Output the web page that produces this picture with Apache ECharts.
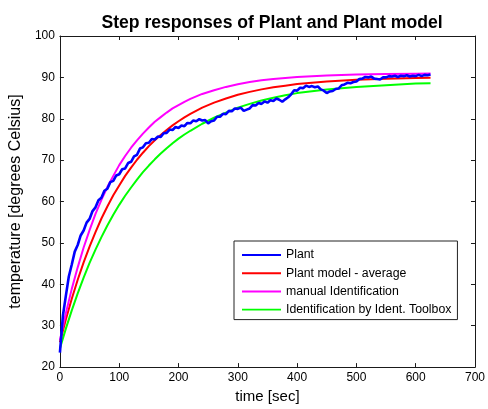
<!DOCTYPE html>
<html>
<head>
<meta charset="utf-8">
<script src="https://cdn.jsdelivr.net/npm/echarts@6/dist/echarts.min.js"></script>
<style>
html,body{margin:0;padding:0;background:#fff;}
#chart{width:488px;height:409px;}
</style>
</head>
<body>
<div id="chart"></div>
<script>
// ---- data ----
const titleText = 'Step responses of Plant and Plant model';
const xName = 'time [sec]';
const yName = 'temperature [degrees Celsius]';
const seriesNames = ['Plant', 'Plant model - average', 'manual Identification', 'Identification by Ident. Toolbox'];
const xTicks = [0, 100, 200, 300, 400, 500, 600, 700];
const yTicks = [20, 30, 40, 50, 60, 70, 80, 90, 100];

// Plant (measured), every 5 s
const plantT = [0,5,10,15,20,25,30,35,40,45,50,55,60,65,70,75,80,85,90,95,100,105,110,115,120,125,130,135,140,145,150,155,160,165,170,175,180,185,190,195,200,205,210,215,220,225,230,235,240,245,250,255,260,265,270,275,280,285,290,295,300,305,310,315,320,325,330,335,340,345,350,355,360,365,370,375,380,385,390,395,400,405,410,415,420,425,430,435,440,445,450,455,460,465,470,475,480,485,490,495,500,505,510,515,520,525,530,535,540,545,550,555,560,565,570,575,580,585,590,595,600,605,610,615,620,625];
const plantY = [23.5,32.4,37.2,41.9,44.8,47.9,49.5,51.8,53.0,54.9,55.8,57.7,58.6,60.3,60.9,62.6,63.1,64.7,65.0,66.3,66.6,67.8,68.0,69.3,69.6,70.9,71.3,72.8,73.1,74.1,74.2,75.1,75.0,75.7,75.6,76.5,76.6,77.4,77.3,78.0,77.8,78.4,78.2,79.0,78.9,79.6,79.4,79.9,79.6,79.7,78.9,79.4,79.6,80.5,80.5,81.2,81.1,81.9,81.8,82.5,82.4,82.7,81.9,82.2,82.5,83.3,83.2,83.8,83.6,84.2,83.9,84.5,84.3,84.9,84.6,84.1,84.7,85.2,85.9,86.9,86.8,87.5,87.4,88.0,87.7,87.9,87.6,87.8,87.1,86.8,86.2,86.6,86.7,87.2,87.3,88.1,88.3,88.7,88.6,88.9,89.0,89.6,89.7,90.1,90.0,90.2,89.7,89.6,89.5,90.0,90.0,90.3,90.2,90.4,90.1,90.4,90.3,90.5,90.2,90.4,90.3,90.6,90.3,90.6,90.5,90.7];

// model responses
const modelT = [0,10,20,30,40,50,60,70,80,90,100,110,120,130,140,150,160,170,180,190,200,210,220,240,260,280,300,320,340,360,380,400,450,500,550,600,625];
const averageY = [26.0,31.5,36.5,41.1,45.3,49.1,52.6,55.9,58.8,61.5,63.9,66.2,68.2,70.1,71.8,73.4,74.8,76.1,77.3,78.4,79.4,80.35,81.2,82.7,83.9,84.9,85.8,86.5,87.1,87.6,88.0,88.4,89.0,89.4,89.7,89.85,89.9];
const manualY = [26.5,33.0,38.9,44.1,48.9,53.1,57.0,60.4,63.5,66.2,68.8,71.0,73.0,74.8,76.4,77.9,79.3,80.4,81.5,82.5,83.3,84.1,84.8,86.0,86.9,87.7,88.35,88.9,89.3,89.6,89.87,90.1,90.45,90.7,90.8,90.9,90.95];
const toolboxY = [24.5,29.3,33.7,37.8,41.6,45.2,48.4,51.4,54.2,56.8,59.2,61.4,63.4,65.3,67.1,68.7,70.2,71.6,72.9,74.1,75.2,76.2,77.1,78.8,80.25,81.5,82.7,83.6,84.4,85.1,85.7,86.2,87.1,87.7,88.1,88.5,88.6];

const colors = ['#0000ff', '#ff0000', '#ff00ff', '#00ff00'];

// ---- build option ----
const zip = (xs, ys) => xs.map((x, i) => [x, ys[i]]);
const FONT = 'Liberation Sans, Arial, Helvetica, sans-serif';
const AX = '#1a1a1a';

const xMin = xTicks[0], xMax = xTicks[xTicks.length - 1], xInt = xTicks[1] - xTicks[0];
const yMin = yTicks[0], yMax = yTicks[yTicks.length - 1], yInt = yTicks[1] - yTicks[0];

function xAxis(pos, labels) {
  return {
    type: 'value', position: pos, min: xMin, max: xMax, interval: xInt,
    name: labels ? xName : '', nameLocation: 'middle', nameGap: 20,
    nameTextStyle: {fontFamily: FONT, fontSize: 15, color: '#000'},
    axisLine: {show: true, onZero: false, lineStyle: {color: AX, width: 1}},
    axisTick: {show: true, inside: true, length: 4, lineStyle: {color: AX}},
    axisLabel: {show: labels, margin: 5, fontFamily: FONT, fontSize: 12, color: '#000'},
    splitLine: {show: false}
  };
}
function yAxis(pos, labels) {
  return {
    type: 'value', position: pos, min: yMin, max: yMax, interval: yInt,
    name: labels ? yName : '', nameLocation: 'middle', nameGap: 29, nameRotate: 90,
    nameTextStyle: {fontFamily: FONT, fontSize: 16, color: '#000'},
    axisLine: {show: true, onZero: false, lineStyle: {color: AX, width: 1}},
    axisTick: {show: true, inside: true, length: 4, lineStyle: {color: AX}},
    axisLabel: {show: labels, margin: 5, fontFamily: FONT, fontSize: 12, color: '#000'},
    splitLine: {show: false}
  };
}

function lineSeries(name, data, color, width, z) {
  return {
    name: name, type: 'line', data: data, xAxisIndex: 0, yAxisIndex: 0,
    symbol: 'none', showSymbol: false, smooth: false,
    lineStyle: {color: color, width: width}, itemStyle: {color: color},
    z: z, animation: false
  };
}

const option = {
  animation: false,
  backgroundColor: '#ffffff',
  title: {
    text: titleText, left: 267, top: 9, textAlign: 'center',
    textStyle: {fontFamily: FONT, fontSize: 17.6, fontWeight: 'bold', color: '#000'}
  },
  grid: {left: 57, right: 8, top: 36, bottom: 40, containLabel: false},
  xAxis: [xAxis('bottom', true), xAxis('top', false)],
  yAxis: [yAxis('left', true), yAxis('right', false)],
  legend: {
    orient: 'vertical', left: 234, top: 241,
    padding: [8, 6, 4, 8], itemGap: 6.2, itemWidth: 39, itemHeight: 14,
    backgroundColor: '#fff', borderColor: '#222', borderWidth: 1,
    textStyle: {fontFamily: FONT, fontSize: 12.3, color: '#000'},
    data: seriesNames.map((n, i) => ({name: n, icon: 'path://M0,6 L40,6 L40,8 L0,8 Z', itemStyle: {color: colors[i]}})),
    selectedMode: false
  },
  series: [
    lineSeries(seriesNames[1], zip(modelT, averageY), colors[1], 2, 2),
    lineSeries(seriesNames[2], zip(modelT, manualY), colors[2], 2, 2),
    lineSeries(seriesNames[3], zip(modelT, toolboxY), colors[3], 2, 2),
    lineSeries(seriesNames[0], zip(plantT, plantY), colors[0], 2.6, 3)
  ]
};

const chart = echarts.init(document.getElementById('chart'), null, {renderer: 'canvas'});
chart.setOption(option);
</script>
</body>
</html>
